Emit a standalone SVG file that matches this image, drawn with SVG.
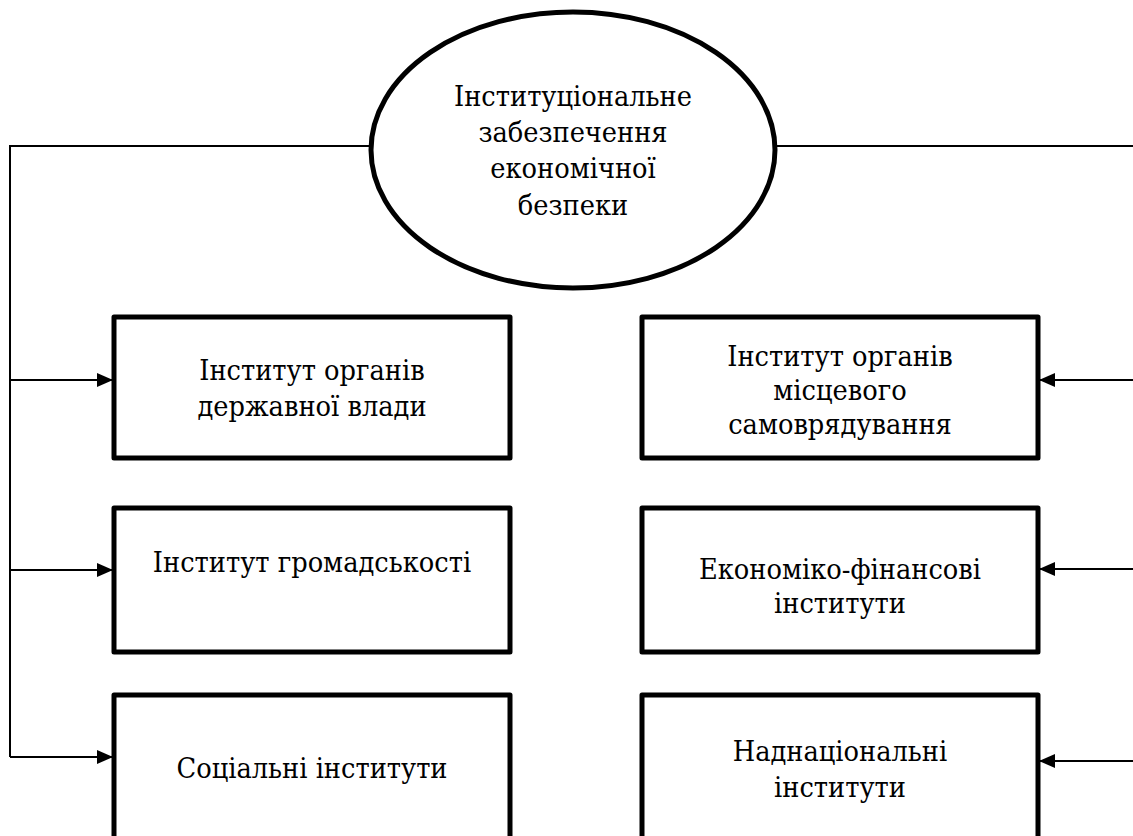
<svg xmlns="http://www.w3.org/2000/svg" width="1133" height="836" viewBox="0 0 1133 836">
<style>
.box{fill:#fff;stroke:#000;stroke-width:5;stroke-linejoin:round}
.ell{fill:#fff;stroke:#000;stroke-width:5}
.ln{fill:none;stroke:#000;stroke-width:2}
.t{font-family:"DejaVu Serif Condensed","DejaVu Serif",serif;font-stretch:condensed;font-size:28.6px;fill:#000;text-anchor:middle}
</style>
<defs>
<marker id="ah" viewBox="0 0 16 14" refX="16" refY="7" markerWidth="16" markerHeight="14" markerUnits="userSpaceOnUse" orient="auto">
<path d="M0,0 L16,7 L0,14 Z" fill="#000"/>
</marker>
</defs>
<rect width="1133" height="836" fill="#fff"/>
<g id="connectors">
<path class="ln" d="M371,146 H10 V757"/>
<path class="ln" d="M775,146 H1133"/>
<path class="ln" d="M10,380 H113" marker-end="url(#ah)"/>
<path class="ln" d="M10,570 H113" marker-end="url(#ah)"/>
<path class="ln" d="M10,757 H113" marker-end="url(#ah)"/>
<path class="ln" d="M1133,380 H1039" marker-end="url(#ah)"/>
<path class="ln" d="M1133,569 H1039" marker-end="url(#ah)"/>
<path class="ln" d="M1133,761 H1039" marker-end="url(#ah)"/>
</g>
<g id="root">
<ellipse class="ell" cx="573" cy="150" rx="202" ry="138"/>
<text class="t" x="573" y="106">Інституціональне</text>
<text class="t" x="573" y="142">забезпечення</text>
<text class="t" x="573" y="178">економічної</text>
<text class="t" x="573" y="215">безпеки</text>
</g>
<g id="n-derzh">
<rect class="box" x="114" y="317" width="396" height="141"/>
<text class="t" x="312" y="380">Інститут органів</text>
<text class="t" x="312" y="416">державної влади</text>
</g>
<g id="n-gromad">
<rect class="box" x="114" y="508" width="396" height="144"/>
<text class="t" x="312" y="572">Інститут громадськості</text>
</g>
<g id="n-social">
<rect class="box" x="114" y="695" width="396" height="146"/>
<text class="t" x="312" y="778">Соціальні інститути</text>
</g>
<g id="n-misc">
<rect class="box" x="642" y="317" width="396" height="141"/>
<text class="t" x="840" y="366">Інститут органів</text>
<text class="t" x="840" y="400">місцевого</text>
<text class="t" x="840" y="434">самоврядування</text>
</g>
<g id="n-ekon">
<rect class="box" x="642" y="508" width="396" height="144"/>
<text class="t" x="840" y="579">Економіко-фінансові</text>
<text class="t" x="840" y="613">інститути</text>
</g>
<g id="n-nadnac">
<rect class="box" x="642" y="695" width="396" height="146"/>
<text class="t" x="840" y="761">Наднаціональні</text>
<text class="t" x="840" y="797">інститути</text>
</g>
</svg>
